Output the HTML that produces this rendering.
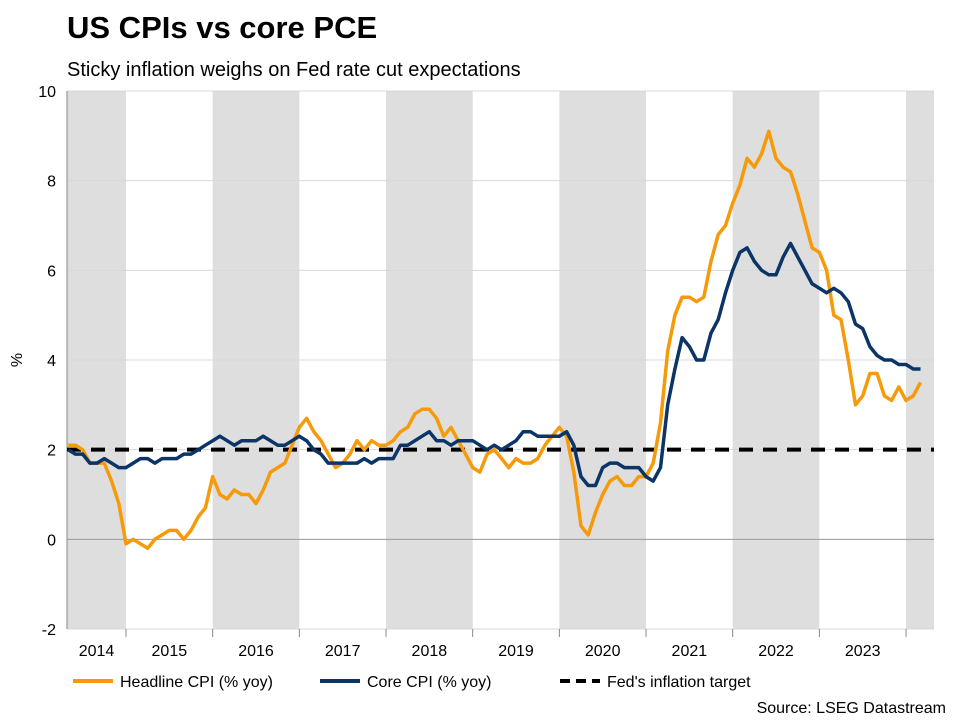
<!DOCTYPE html>
<html><head><meta charset="utf-8"><style>
body{margin:0;background:#fff;font-family:"Liberation Sans",Arial,sans-serif;}
</style></head><body>
<svg width="960" height="720" xmlns="http://www.w3.org/2000/svg" font-family="Liberation Sans, Arial, sans-serif">
<text x="67" y="38" font-size="31" font-weight="bold" fill="#000">US CPIs vs core PCE</text>
<text x="67" y="76" font-size="20" fill="#000">Sticky inflation weighs on Fed rate cut expectations</text>
<g id="bands"></g><g id="grid"></g><g id="axes"></g><g id="lines"></g>
<text transform="translate(22,360) rotate(-90)" font-size="16" text-anchor="middle">%</text>
<g>
<line x1="73" y1="681" x2="113" y2="681" stroke="#F79A0A" stroke-width="4"/>
<text x="120" y="687" font-size="16">Headline CPI (% yoy)</text>
<line x1="320" y1="681" x2="360" y2="681" stroke="#0B3566" stroke-width="4"/>
<text x="367" y="687" font-size="16">Core CPI (% yoy)</text>
<line x1="560" y1="681" x2="600" y2="681" stroke="#000" stroke-width="4" stroke-dasharray="10,6"/>
<text x="607" y="687" font-size="16">Fed's inflation target</text>
</g>
<text x="946" y="713" font-size="16" text-anchor="end">Source: LSEG Datastream</text>
</svg>
<script>
const years=["2014","2015","2016","2017","2018","2019","2020","2021","2022","2023"];
const yTicks=[-2,0,2,4,6,8,10];
const target=[2];
const headline=[2.1,2.1,2.0,1.7,1.7,1.7,1.3,0.8,
-0.1,0.0,-0.1,-0.2,0.0,0.1,0.2,0.2,0.0,0.2,0.5,0.7,
1.4,1.0,0.9,1.1,1.0,1.0,0.8,1.1,1.5,1.6,1.7,2.1,
2.5,2.7,2.4,2.2,1.9,1.6,1.7,1.9,2.2,2.0,2.2,2.1,
2.1,2.2,2.4,2.5,2.8,2.9,2.9,2.7,2.3,2.5,2.2,1.9,
1.6,1.5,1.9,2.0,1.8,1.6,1.8,1.7,1.7,1.8,2.1,2.3,
2.5,2.3,1.5,0.3,0.1,0.6,1.0,1.3,1.4,1.2,1.2,1.4,
1.4,1.7,2.6,4.2,5.0,5.4,5.4,5.3,5.4,6.2,6.8,7.0,
7.5,7.9,8.5,8.3,8.6,9.1,8.5,8.3,8.2,7.7,7.1,6.5,
6.4,6.0,5.0,4.9,4.0,3.0,3.2,3.7,3.7,3.2,3.1,3.4,
3.1,3.2,3.5];
const core=[2.0,1.9,1.9,1.7,1.7,1.8,1.7,1.6,
1.6,1.7,1.8,1.8,1.7,1.8,1.8,1.8,1.9,1.9,2.0,2.1,
2.2,2.3,2.2,2.1,2.2,2.2,2.2,2.3,2.2,2.1,2.1,2.2,
2.3,2.2,2.0,1.9,1.7,1.7,1.7,1.7,1.7,1.8,1.7,1.8,
1.8,1.8,2.1,2.1,2.2,2.3,2.4,2.2,2.2,2.1,2.2,2.2,
2.2,2.1,2.0,2.1,2.0,2.1,2.2,2.4,2.4,2.3,2.3,2.3,
2.3,2.4,2.1,1.4,1.2,1.2,1.6,1.7,1.7,1.6,1.6,1.6,
1.4,1.3,1.6,3.0,3.8,4.5,4.3,4.0,4.0,4.6,4.9,5.5,
6.0,6.4,6.5,6.2,6.0,5.9,5.9,6.3,6.6,6.3,6.0,5.7,
5.6,5.5,5.6,5.5,5.3,4.8,4.7,4.3,4.1,4.0,4.0,3.9,
3.9,3.8,3.8];
const NS="http://www.w3.org/2000/svg";
const L=67,R=934,T=91,B=629,YW=86.67,START=4; // first point May 2014
function x(i){return Math.max(L,126+(i-12)*YW/12);}
function y(v){return B-(v+2)*(B-T)/12;}
function mk(p,tag,a){const e=document.createElementNS(NS,tag);for(const k in a)e.setAttribute(k,a[k]);p.appendChild(e);return e;}
const bands=document.getElementById('bands'),grid=document.getElementById('grid'),axes=document.getElementById('axes'),lines=document.getElementById('lines');
for(let k=0;k<=years.length;k++){
  if(k%2===0){const x0=Math.max(L,x(k*12)),x1=Math.min(R,x(k*12+12));
    const r=mk(bands,'rect',{x:x0,y:T,width:x1-x0,height:B-T,fill:'#DEDEDE'});
    
    }
}
yTicks.forEach(v=>{
  const g=mk(grid,'line',{x1:L,x2:R,y1:y(v),y2:y(v),stroke:v===0?'#999':'#d8d8d8','stroke-width':1});
  
  
  const t=mk(axes,'text',{x:56,y:y(v)+6,'font-size':16,'text-anchor':'end'});t.textContent=v;
  
  
});
const ax=mk(axes,'line',{x1:L,x2:L,y1:T,y2:B,stroke:'#888'});


years.forEach((yr,k)=>{
  const x0=Math.max(L,x(k*12)),x1=x(k*12+12);
  const t=mk(axes,'text',{x:(x0+x1)/2,y:656,'font-size':16,'text-anchor':'middle'});t.textContent=yr;
  
  
  const tk=mk(axes,'line',{x1:x1,x2:x1,y1:B,y2:B+8,stroke:'#888'});
  
  
});
const tl=mk(lines,'line',{x1:L,x2:R,y1:y(target[0]),y2:y(target[0]),stroke:'#000','stroke-width':4,'stroke-dasharray':'14,10'});


function path(d,c,n){const p=mk(lines,'path',{d:d.map((v,i)=>(i?'L':'M')+x(i+START).toFixed(1)+','+y(v).toFixed(1)).join(''),fill:'none',stroke:c,'stroke-width':3.5,'stroke-linejoin':'round'});
  
  }
path(headline,'#F79A0A','headline-cpi-line');
path(core,'#0B3566','core-cpi-line');
</script>
</body></html>
